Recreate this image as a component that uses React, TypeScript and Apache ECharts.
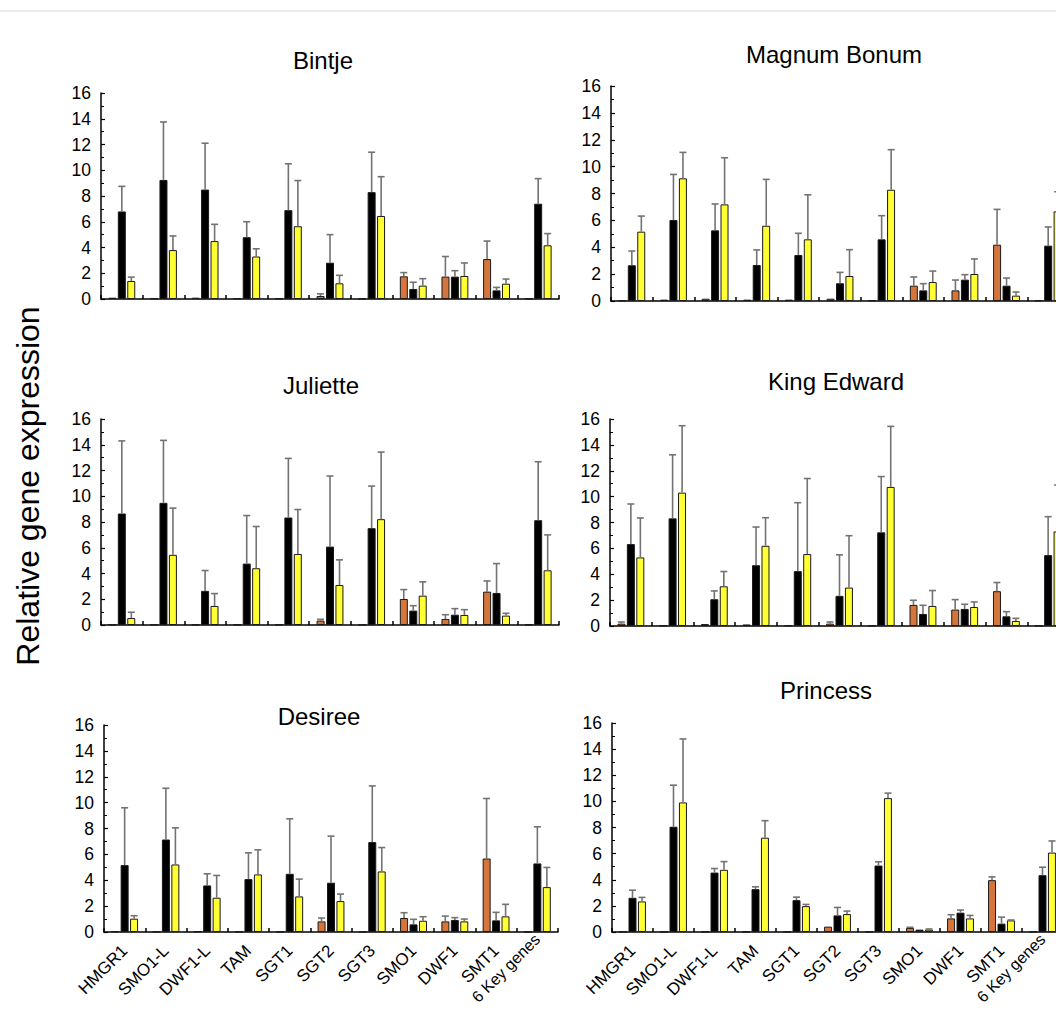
import React, { useEffect, useRef } from "react";
import * as echarts from "echarts";

const categories = ["HMGR1", "SMO1-L", "DWF1-L", "TAM", "SGT1", "SGT2", "SGT3", "SMO1", "DWF1", "SMT1", "6 Key genes"];
const yTicks = { min: 0, max: 16, interval: 2 };
const yAxisTitle = "Relative gene expression";

// Bintje
const bintjeOrange = [0.1, 0.05, 0.1, 0.05, 0.05, 0.23, 0.03, 1.76, 1.74, 3.1, 0.03];
const bintjeOrangeErr = [0, 0, 0, 0, 0, 0.17, 0, 0.29, 1.56, 1.4, 0];
const bintjeBlack = [6.8, 9.25, 8.5, 4.8, 6.9, 2.82, 8.3, 0.78, 1.74, 0.67, 7.4];
const bintjeBlackErr = [1.95, 4.5, 3.6, 1.2, 3.6, 2.18, 3.1, 0.52, 0.46, 0.23, 1.95];
const bintjeYellow = [1.4, 3.8, 4.5, 3.3, 5.65, 1.22, 6.45, 1.04, 1.79, 1.19, 4.17];
const bintjeYellowErr = [0.3, 1.1, 1.3, 0.6, 3.55, 0.62, 3.05, 0.54, 1.01, 0.36, 0.91];

// Magnum Bonum
const magnumOrange = [0.05, 0.1, 0.17, 0.1, 0.1, 0.17, 0.05, 1.14, 0.79, 4.19, 0.05];
const magnumOrangeErr = [0, 0, 0, 0, 0, 0, 0, 0.65, 0.77, 2.63, 0];
const magnumBlack = [2.66, 6.03, 5.26, 2.68, 3.42, 1.32, 4.59, 0.79, 1.59, 1.14, 4.12];
const magnumBlackErr = [1.06, 3.39, 1.96, 1.12, 1.62, 0.81, 1.76, 0.5, 0.37, 0.57, 1.39];
const magnumYellow = [5.16, 9.13, 7.19, 5.6, 4.59, 1.86, 8.28, 1.41, 2.01, 0.4, 6.67];
const magnumYellowErr = [1.16, 1.93, 3.47, 3.45, 3.31, 1.96, 2.98, 0.82, 1.12, 0.27, 1.46];

// Juliette
const julietteOrange = [0.03, 0.03, 0.03, 0.03, 0.03, 0.34, 0.03, 2.02, 0.47, 2.59, 0.03];
const julietteOrangeErr = [0, 0, 0, 0, 0, 0.1, 0, 0.73, 0.33, 0.83, 0];
const julietteBlack = [8.66, 9.49, 2.65, 4.77, 8.35, 6.09, 7.52, 1.12, 0.8, 2.49, 8.14];
const julietteBlackErr = [5.64, 4.85, 1.58, 3.73, 4.59, 5.48, 3.27, 0.38, 0.47, 2.28, 4.54];
const julietteYellow = [0.54, 5.45, 1.48, 4.41, 5.52, 3.11, 8.22, 2.28, 0.78, 0.73, 4.25];
const julietteYellowErr = [0.45, 3.63, 0.96, 3.24, 3.45, 1.95, 5.21, 1.07, 0.41, 0.18, 2.75];

// King Edward
const kingOrange = [0.18, 0.03, 0.15, 0.12, 0.05, 0.18, 0.03, 1.63, 1.27, 2.69, 0.03];
const kingOrangeErr = [0.13, 0, 0, 0, 0, 0.13, 0, 0.36, 0.77, 0.67, 0];
const kingBlack = [6.33, 8.32, 2.07, 4.7, 4.24, 2.33, 7.24, 0.93, 1.32, 0.75, 5.48];
const kingBlackErr = [3.1, 4.91, 0.64, 2.95, 5.29, 3.17, 4.31, 0.67, 0.36, 0.36, 2.97];
const kingYellow = [5.3, 10.31, 3.07, 6.2, 5.56, 2.97, 10.75, 1.55, 1.47, 0.39, 7.31];
const kingYellowErr = [3.05, 5.17, 1.14, 2.17, 5.84, 4.01, 4.68, 1.19, 0.39, 0.2, 3.59];

// Desiree
const desireeOrange = [0.05, 0.02, 0.05, 0.02, 0.02, 0.82, 0.02, 1.08, 0.82, 5.68, 0.02];
const desireeOrangeErr = [0, 0, 0, 0, 0, 0.26, 0, 0.41, 0.41, 4.64, 0];
const desireeBlack = [5.17, 7.15, 3.6, 4.09, 4.5, 3.81, 6.95, 0.59, 0.93, 0.9, 5.3];
const desireeBlackErr = [4.43, 3.96, 0.9, 2.03, 4.25, 3.6, 4.34, 0.39, 0.18, 0.62, 2.83];
const desireeYellow = [1.03, 5.22, 2.65, 4.45, 2.75, 2.39, 4.68, 0.87, 0.82, 1.21, 3.47];
const desireeYellowErr = [0.23, 2.83, 1.72, 1.9, 1.34, 0.54, 1.85, 0.31, 0.18, 0.93, 1.52];

// Princess
const princessOrange = [0.02, 0.02, 0.02, 0.02, 0.02, 0.41, 0.02, 0.31, 1.04, 3.97, 0.02];
const princessOrangeErr = [0, 0, 0, 0, 0, 0, 0, 0.05, 0.28, 0.25, 0];
const princessBlack = [2.62, 8.06, 4.55, 3.28, 2.44, 1.27, 5.09, 0.18, 1.48, 0.64, 4.35];
const princessBlackErr = [0.58, 3.18, 0.31, 0.18, 0.23, 0.61, 0.28, 0, 0.2, 0.5, 0.61];
const princessYellow = [2.34, 9.92, 4.76, 7.22, 1.98, 1.37, 10.25, 0.18, 1.04, 0.89, 6.08];
const princessYellowErr = [0.31, 4.86, 0.63, 1.3, 0.13, 0.23, 0.38, 0.05, 0.23, 0.03, 0.89];

const panels = [
  { name: "Bintje", values: [bintjeOrange, bintjeBlack, bintjeYellow], errors: [bintjeOrangeErr, bintjeBlackErr, bintjeYellowErr] },
  { name: "Magnum Bonum", values: [magnumOrange, magnumBlack, magnumYellow], errors: [magnumOrangeErr, magnumBlackErr, magnumYellowErr] },
  { name: "Juliette", values: [julietteOrange, julietteBlack, julietteYellow], errors: [julietteOrangeErr, julietteBlackErr, julietteYellowErr] },
  { name: "King Edward", values: [kingOrange, kingBlack, kingYellow], errors: [kingOrangeErr, kingBlackErr, kingYellowErr] },
  { name: "Desiree", values: [desireeOrange, desireeBlack, desireeYellow], errors: [desireeOrangeErr, desireeBlackErr, desireeYellowErr] },
  { name: "Princess", values: [princessOrange, princessBlack, princessYellow], errors: [princessOrangeErr, princessBlackErr, princessYellowErr] },
];

// layout (pixels)
const layout = [
  { left: 101, top: 93, width: 458, height: 206, tx: 323, ty: 60, labels: false },
  { left: 611, top: 86, width: 458, height: 215, tx: 834, ty: 54, labels: false },
  { left: 101, top: 419, width: 458, height: 206, tx: 321, ty: 385, labels: false },
  { left: 610, top: 419, width: 459, height: 207, tx: 836, ty: 381, labels: false },
  { left: 104, top: 725, width: 454, height: 207, tx: 319, ty: 716, labels: true },
  { left: 612, top: 723, width: 451, height: 209, tx: 826, ty: 690, labels: true },
];

const barColors = ["#D4763B", "#000000", "#FFFF33"];
const FONT = "'Liberation Sans', Arial, Helvetica, sans-serif";
const BAR_W = 8;
const BAR_STEP = 9.5;

export default function App() {
  const ref = useRef<HTMLDivElement>(null);
  useEffect(() => {
    if (!ref.current) return;
    const chart = echarts.init(ref.current, null, { renderer: "svg" });
    const grid: any[] = [];
    const xAxis: any[] = [];
    const yAxis: any[] = [];
    const series: any[] = [];
    const graphic: any[] = [];
    const lastIdx = categories.length - 1;
    const catData = categories.map((c, k) =>
      k === lastIdx
        ? { value: c, textStyle: { fontSize: 16, verticalAlign: "bottom", padding: [0, -8, 0, 0] } }
        : c
    );

    panels.forEach((p, i) => {
      const L = layout[i];
      grid.push({ left: L.left, top: L.top, width: L.width, height: L.height, containLabel: false, outerBoundsMode: "none" });
      xAxis.push({
        type: "category",
        gridIndex: i,
        data: catData,
        axisLine: { show: true, lineStyle: { color: "#000", width: 1.5 } },
        axisTick: { show: true, inside: true, length: 4, lineStyle: { color: "#000", width: 1.5 } },
        axisLabel: {
          show: L.labels,
          interval: 0,
          rotate: 45,
          fontSize: 17,
          fontFamily: FONT,
          color: "#000",
          margin: 16,
        },
        splitLine: { show: false },
      });
      yAxis.push({
        type: "value",
        gridIndex: i,
        min: yTicks.min,
        max: yTicks.max,
        interval: yTicks.interval,
        axisLine: { show: true, lineStyle: { color: "#000", width: 1.5 } },
        axisTick: { show: true, inside: true, length: 4, lineStyle: { color: "#000", width: 1.2 } },
        minorTick: { show: true, splitNumber: 2, length: 3, lineStyle: { color: "#000", width: 1 } },
        axisLabel: { fontSize: 17.5, fontFamily: FONT, color: "#000", margin: 10 },
        splitLine: { show: false },
      });
      p.values.forEach((vals, s) => {
        series.push({
          type: "bar",
          xAxisIndex: i,
          yAxisIndex: i,
          data: vals,
          barWidth: BAR_W,
          barGap: "18%",
          itemStyle: { color: barColors[s], borderColor: "#1a1a1a", borderWidth: 1 },
          z: 2,
        });
      });
      const errData: any[] = [];
      p.values.forEach((vals, s) => {
        vals.forEach((v, c) => {
          const e = p.errors[s][c];
          if (e > 0) errData.push([c, s, v, e]);
        });
      });
      series.push({
        type: "custom",
        xAxisIndex: i,
        yAxisIndex: i,
        data: errData,
        encode: { x: 0, y: 2 },
        z: 3,
        renderItem: (params: any, api: any) => {
          const c = api.value(0);
          const s = api.value(1);
          const v = api.value(2);
          const e = api.value(3);
          const p0 = api.coord([c, v]);
          const p1 = api.coord([c, v + e]);
          const x = p0[0] + (s - 1) * BAR_STEP;
          const st = { stroke: "#737373", lineWidth: 1.6 };
          return {
            type: "group",
            children: [
              { type: "line", shape: { x1: x, y1: p0[1], x2: x, y2: p1[1] }, style: st },
              { type: "line", shape: { x1: x - 3.5, y1: p1[1], x2: x + 3.5, y2: p1[1] }, style: st },
            ],
          };
        },
      });
      graphic.push({
        type: "text",
        x: L.tx,
        y: L.ty,
        style: { text: p.name, fontSize: 24, fontFamily: FONT, fill: "#000", textAlign: "center", textVerticalAlign: "middle" },
      });
    });

    graphic.push({
      type: "text",
      x: 28,
      y: 486,
      rotation: Math.PI / 2,
      style: { text: yAxisTitle, fontSize: 32, fontFamily: FONT, fill: "#000", textAlign: "center", textVerticalAlign: "middle" },
    });
    graphic.push({
      type: "line",
      shape: { x1: 0, y1: 11, x2: 1056, y2: 11 },
      style: { stroke: "#d8d8d8", lineWidth: 1 },
    });

    chart.setOption({
      animation: false,
      backgroundColor: "#fff",
      grid,
      xAxis,
      yAxis,
      series,
      graphic,
    });
    return () => chart.dispose();
  }, []);
  return <div ref={ref} style={{ position: "absolute", left: 0, top: 0, width: 1056, height: 1011 }} />;
}
